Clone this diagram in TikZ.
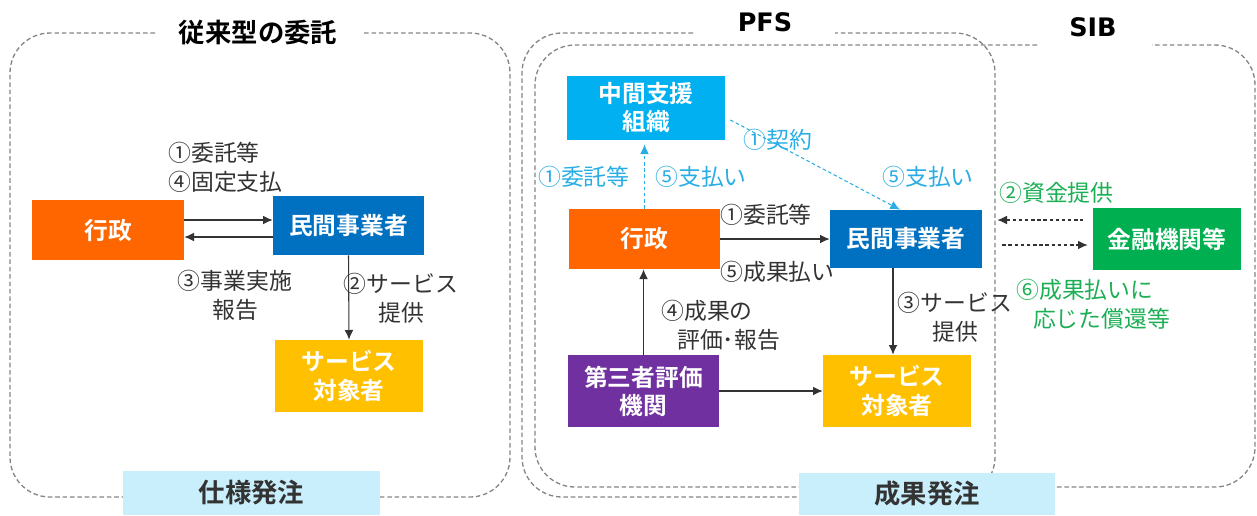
\documentclass[tikz,border=0pt]{standalone}
\usepackage{fontspec}
\setmainfont{Noto Sans CJK JP}[BoldFont={Noto Sans CJK JP Bold}]
\newfontfamily\headfont{DejaVu Sans}
\usetikzlibrary{arrows.meta}
\definecolor{gyoorange}{HTML}{FF6600}
\definecolor{minblue}{HTML}{0070C0}
\definecolor{svcyellow}{HTML}{FFC000}
\definecolor{chucyan}{HTML}{00B0F0}
\definecolor{daipurple}{HTML}{7030A0}
\definecolor{kingreen}{HTML}{00B050}
\definecolor{tagblue}{HTML}{C9EFFC}
\definecolor{panelgray}{HTML}{858585}
\definecolor{txtgray}{HTML}{333333}
\definecolor{lblcyan}{HTML}{29ADE4}
\definecolor{lblgreen}{HTML}{1DAF55}

\begin{document}
\begin{tikzpicture}[x=0.02cm, y=-0.02cm, >={Latex[length=5.5pt,width=5pt]},
  panel/.style={draw=panelgray, line width=0.75pt, dash pattern=on 2.6pt off 1.6pt, rounded corners=0.8cm},
  box/.style={text=white, font=\fontsize{13.5}{16}\selectfont\bfseries, align=center, inner sep=0pt, minimum width=3.02cm, minimum height=1.2cm},
  tag/.style={fill=tagblue, text=txtgray, font=\fontsize{15}{18}\selectfont\bfseries, inner sep=0pt, minimum width=5.14cm, minimum height=0.88cm},
  head/.style={text=black, font=\fontsize{15}{18}\selectfont\bfseries, inner sep=0pt},
  lbl/.style={text=txtgray, font=\fontsize{13}{16.5}\selectfont, inner sep=0pt},
  conn/.style={draw=txtgray, line width=0.6pt},
  cyanconn/.style={draw=lblcyan, line width=0.6pt, dash pattern=on 2pt off 1.5pt},
  finconn/.style={draw=txtgray, line width=0.6pt, dash pattern=on 2pt off 1.5pt}]

\useasboundingbox (0,0) rectangle (1257,515);

\draw[panel] (155,33) -- (10,33) -- (10,497) -- (510,497) -- (510,33) -- (363,33);
\draw[panel] (693,33) -- (522,33) -- (522,497) -- (995,497) -- (995,33) -- (835,33);
\draw[panel] (1037,45) -- (535,45) -- (535,487) -- (1255,487) -- (1255,45) -- (1152,45);

\node[head] (head1) at (258,33) {従来型の委託};
\node[head, font=\headfont\fontsize{14.5}{17}\selectfont\bfseries] (head2) at (765,22) {PFS};
\node[head, font=\headfont\fontsize{14.5}{17}\selectfont\bfseries] (head3) at (1093,27) {SIB};

\node[tag] (tag1) at (251.5,492.5) {仕様発注};
\node[tag, minimum height=0.84cm] (tag2) at (927,494) {成果発注};

% 従来型
\node[box, fill=gyoorange, minimum width=3.04cm] (gyo1) at (108,230) {行政};
\node[box, fill=minblue, minimum height=1.18cm] (min1) at (348.5,225.5) {民間事業者};
\node[box, fill=svcyellow, minimum width=2.96cm, minimum height=1.44cm] (svc1) at (349,376) {サービス\\対象者};

\draw[conn, ->] ([yshift=0.2cm]gyo1.east) -- ([yshift=0.2cm]gyo1.east -| min1.west);
\draw[conn, ->] ([yshift=-0.14cm]gyo1.east -| min1.west) -- ([yshift=-0.14cm]gyo1.east);
\draw[conn, ->] (min1.south) -- (svc1.north);

\node[lbl, anchor=west, align=left] (l1) at (168,167.5) {①委託等\\④固定支払};
\node[lbl, align=center] (l2) at (235,295) {③事業実施\\報告};
\node[lbl, align=center] (l3) at (401,298) {②サービス\\提供};

% PFS / SIB
\node[box, fill=chucyan, minimum width=3.16cm, minimum height=1.28cm] (chu) at (646,108) {中間支援\\組織};
\node[box, fill=gyoorange] (gyo2) at (644.5,239) {行政};
\node[box, fill=minblue, minimum width=3.04cm, minimum height=1.16cm] (min2) at (906,239) {民間事業者};
\node[box, fill=daipurple, minimum height=1.44cm] (dai) at (643.5,391) {第三者評価\\機関};
\node[box, fill=svcyellow, minimum width=2.96cm, minimum height=1.44cm] (svc2) at (897,391) {サービス\\対象者};
\node[box, fill=kingreen, minimum width=2.96cm, minimum height=1.24cm] (kin) at (1167,239) {金融機関等};

\draw[cyanconn, ->, shorten >=0.08cm] (gyo2.north) -- (gyo2.north |- chu.south);
\draw[cyanconn, ->] ([xshift=0.1cm, yshift=-0.24cm]chu.east) -- ([xshift=-0.12cm]min2.north);
\draw[conn, ->] (gyo2.east) -- (min2.west);
\draw[conn, ->] ([xshift=-0.26cm]min2.south) -- ([xshift=-0.26cm]min2.south |- svc2.north);
\draw[conn, ->] (dai.north) -- (dai.north |- gyo2.south);
\draw[conn, ->] (dai.east) -- (svc2.west);
\draw[finconn, <-, shorten <=0.3cm, shorten >=0.2cm] ([yshift=0.38cm]min2.east) -- ([yshift=0.38cm]min2.east -| kin.west);
\draw[finconn, ->, shorten <=0.4cm, shorten >=0.1cm] ([yshift=-0.12cm]min2.east) -- ([yshift=-0.12cm]min2.east -| kin.west);

\node[lbl, text=lblcyan, anchor=east] (p1) at (630,177) {①委託等};
\node[lbl, text=lblcyan, anchor=west] (p2) at (655,177) {⑤支払い};
\node[lbl, text=lblcyan, anchor=west] (p3) at (743,140) {①契約};
\node[lbl, text=lblcyan, anchor=west] (p4) at (882,177) {⑤支払い};
\node[lbl, anchor=west] (p5) at (720,215) {①委託等};
\node[lbl, anchor=west] (p6) at (720,272) {⑤成果払い};
\node[lbl, align=center] (p7) at (955,317) {③サービス\\提供};
\node[lbl, anchor=west, align=left] (p8) at (661,325.5) {④成果の\\\hspace*{9pt}評価･報告};
\node[lbl, text=lblgreen, anchor=west] (s1) at (999,193) {②資金提供};
\node[lbl, text=lblgreen, anchor=west, align=left] (s2) at (1016,304) {⑥成果払いに\\\hspace*{9.5pt}応じた償還等};

\end{tikzpicture}
\end{document}
